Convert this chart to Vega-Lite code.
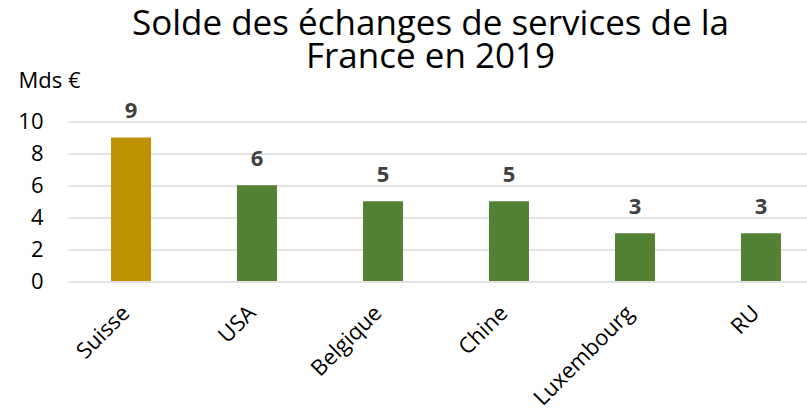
{
  "$schema": "https://vega.github.io/schema/vega-lite/v6.json",
  "width": 739,
  "height": 159.5,
  "autosize": "none",
  "padding": {"left": 68, "top": 121.5, "right": 0, "bottom": 132},
  "background": "white",
  "title": {
    "text": ["Solde des échanges de services de la", "France en 2019"],
    "font": "Open Sans",
    "fontSize": 35,
    "fontWeight": "normal",
    "color": "#000000",
    "anchor": "middle",
    "frame": "group",
    "dx": -7,
    "lineHeight": 33,
    "offset": -5
  },
  "data": {
    "values": [
      {"pays": "Suisse", "solde": 9},
      {"pays": "USA", "solde": 6},
      {"pays": "Belgique", "solde": 5},
      {"pays": "Chine", "solde": 5},
      {"pays": "Luxembourg", "solde": 3},
      {"pays": "RU", "solde": 3}
    ]
  },
  "config": {
    "view": {"stroke": null},
    "font": "Open Sans"
  },
  "encoding": {
    "x": {
      "field": "pays",
      "type": "nominal",
      "sort": null,
      "scale": {"paddingInner": 0.6825, "paddingOuter": 0.274, "align": 0.623},
      "axis": {
        "title": null,
        "labelAngle": -45,
        "labelAlign": "right",
        "labelBaseline": "alphabetic",
        "labelFontSize": 22,
        "labelColor": "#000000",
        "labelPadding": 33,
        "labelDx": 4,
        "domain": false,
        "ticks": false,
        "labelFont": "Open Sans"
      }
    },
    "y": {
      "field": "solde",
      "type": "quantitative",
      "scale": {"domain": [0, 10], "nice": false},
      "axis": {
        "values": [0, 2, 4, 6, 8, 10],
        "title": "Mds €",
        "titleAngle": 0,
        "titleAlign": "left",
        "titleBaseline": "alphabetic",
        "titleX": -50,
        "titleY": -34,
        "titleFontSize": 22,
        "titleFontWeight": "normal",
        "titleColor": "#000000",
        "titleFont": "Open Sans",
        "labelFontSize": 22,
        "labelColor": "#000000",
        "labelPadding": 25,
        "labelFont": "Open Sans",
        "domain": false,
        "ticks": false,
        "grid": true,
        "gridColor": "#d9d9d9",
        "gridWidth": 1.3
      }
    }
  },
  "layer": [
    {
      "mark": {"type": "bar"},
      "encoding": {
        "color": {
          "condition": {"test": "datum.pays === 'Suisse'", "value": "#BF9000"},
          "value": "#548235"
        }
      }
    },
    {
      "mark": {"type": "text", "dy": -19, "baseline": "alphabetic", "fontSize": 22, "fontWeight": "bold", "color": "#404040", "font": "Open Sans"},
      "encoding": {
        "text": {"field": "solde", "type": "quantitative"}
      }
    }
  ]
}
